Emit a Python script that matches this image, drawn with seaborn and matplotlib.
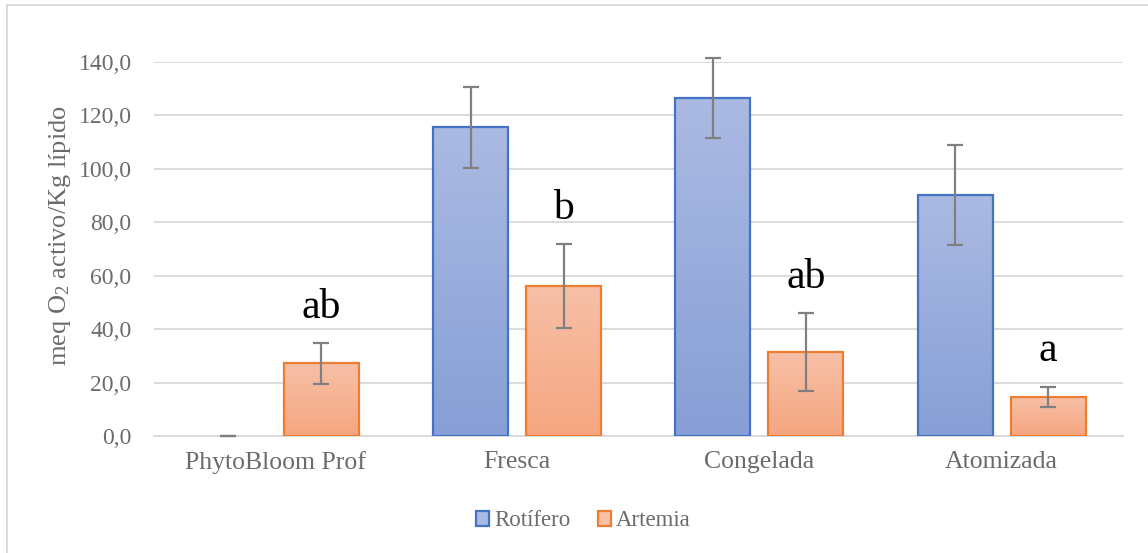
import numpy as np
import pandas as pd
import matplotlib
matplotlib.use("Agg")
import matplotlib.pyplot as plt
import seaborn as sns
from matplotlib.patches import Patch
from matplotlib.lines import Line2D
from matplotlib.colors import to_rgb

# ---- data ----
categories = ["PhytoBloom Prof", "Fresca", "Congelada", "Atomizada"]
series = ["Rotífero", "Artemia"]
rotifero = [0.0, 115.5, 126.5, 90.1]
rotifero_err = [0.0, 15.0, 15.0, 18.7]
artemia = [27.2, 56.1, 31.3, 14.7]
artemia_err = [7.6, 15.7, 14.6, 3.7]
letters = ["ab", "b", "ab", "a"]
yticks = [0, 20, 40, 60, 80, 100, 120, 140]

df = pd.DataFrame({
    "cat": categories * 2,
    "serie": [series[0]] * 4 + [series[1]] * 4,
    "val": rotifero + artemia,
})

sns.set_theme(style="white")
plt.rcParams["font.family"] = ["Liberation Serif", "DejaVu Serif"]
plt.rcParams["mathtext.fontset"] = "custom"
plt.rcParams["mathtext.rm"] = "Liberation Serif"
plt.rcParams["mathtext.it"] = "Liberation Serif:italic"

grey_txt = "#6b6b6b"
grid_c = "#d9d9d9"
edge_cols = {"Rotífero": "#4472C4", "Artemia": "#ED7D31"}
grad = {"Rotífero": ("#abbae2", "#879fd6"), "Artemia": ("#f7c0a7", "#f5a680")}

fig = plt.figure(figsize=(11.48, 5.53), dpi=100)
ax = fig.add_axes([0.134, 0.2116, 0.844, 0.6763])

sns.barplot(data=df, x="cat", y="val", hue="serie", order=categories,
            hue_order=series, palette=[edge_cols[s] for s in series],
            width=0.768, gap=0.195, errorbar=None, legend=False, ax=ax,
            zorder=3)

errs = {"Rotífero": rotifero_err, "Artemia": artemia_err}
vals = {"Rotífero": rotifero, "Artemia": artemia}
centers = {}
for cont, s in zip(ax.containers, series):
    top, bot = grad[s]
    img = np.linspace(0, 1, 256)[:, None]
    c_top = np.array(to_rgb(top)); c_bot = np.array(to_rgb(bot))
    arr = (c_top[None, None, :] * (1 - img[:, :, None]) + c_bot[None, None, :] * img[:, :, None])
    xs = []
    for p in cont.patches:
        x, y, w, h = p.get_x(), p.get_y(), p.get_width(), p.get_height()
        xs.append(x + w / 2)
        if h <= 0:
            p.set_linewidth(0)
            continue
        im = ax.imshow(arr, extent=[x, x + w, y, y + h], aspect="auto",
                       origin="upper", zorder=3, interpolation="bilinear")
        im.set_clip_path(p)
        p.set_facecolor("none")
        p.set_edgecolor(edge_cols[s])
        p.set_linewidth(1.6)
        p.set_zorder(4)
    centers[s] = xs
    ax.errorbar(xs, vals[s], yerr=errs[s], fmt="none", ecolor="#808080",
                elinewidth=1.6, capsize=6, capthick=1.6, zorder=5, clip_on=False)

for xc, v, e, t in zip(centers["Artemia"], artemia, artemia_err, letters):
    ax.text(xc, v + e + 9.5, t, ha="center", va="baseline", fontsize=30,
            color="black")

ax.set_xlim(-0.5, len(categories) - 0.5)
ax.set_ylim(0, 140)
ax.set_yticks(yticks)
ax.set_yticklabels([f"{t:.1f}".replace(".", ",") for t in yticks])
ax.yaxis.grid(True, color=grid_c, linewidth=1.3, zorder=0)
ax.set_axisbelow(True)
for sp in ["top", "right", "left"]:
    ax.spines[sp].set_visible(False)
ax.spines["bottom"].set_color(grid_c)
ax.spines["bottom"].set_linewidth(1.3)
ax.spines["bottom"].set_zorder(2)
ax.tick_params(axis="both", length=0, colors=grey_txt)
ax.tick_params(axis="y", pad=16, labelsize=17)
ax.tick_params(axis="x", pad=11, labelsize=18.5)
ax.set_xlabel("")
ax.set_ylabel(r"meq O$_\mathrm{2}$ activo/Kg lípido", fontsize=19, color=grey_txt)
ax.yaxis.set_label_coords(-0.083, 0.537)

handles = [Patch(facecolor=grad[s][0], edgecolor=edge_cols[s], linewidth=1.6, label=s)
           for s in series]
leg = fig.legend(handles=handles, loc="center", bbox_to_anchor=(0.508, 0.058),
                 ncol=2, frameon=False, fontsize=16.5, handlelength=0.6,
                 handleheight=0.6, handletextpad=0.2, columnspacing=1.2)
for t in leg.get_texts():
    t.set_color(grey_txt)

# outer chart border
fig.add_artist(Line2D([0.0061, 1.0], [1 - 5 / 553, 1 - 5 / 553], color=grid_c,
                      linewidth=1.3, transform=fig.transFigure))
fig.add_artist(Line2D([0.0061, 0.0061], [0.0, 1 - 5 / 553], color=grid_c,
                      linewidth=1.3, transform=fig.transFigure))

fig.savefig("out.png", dpi=100)
